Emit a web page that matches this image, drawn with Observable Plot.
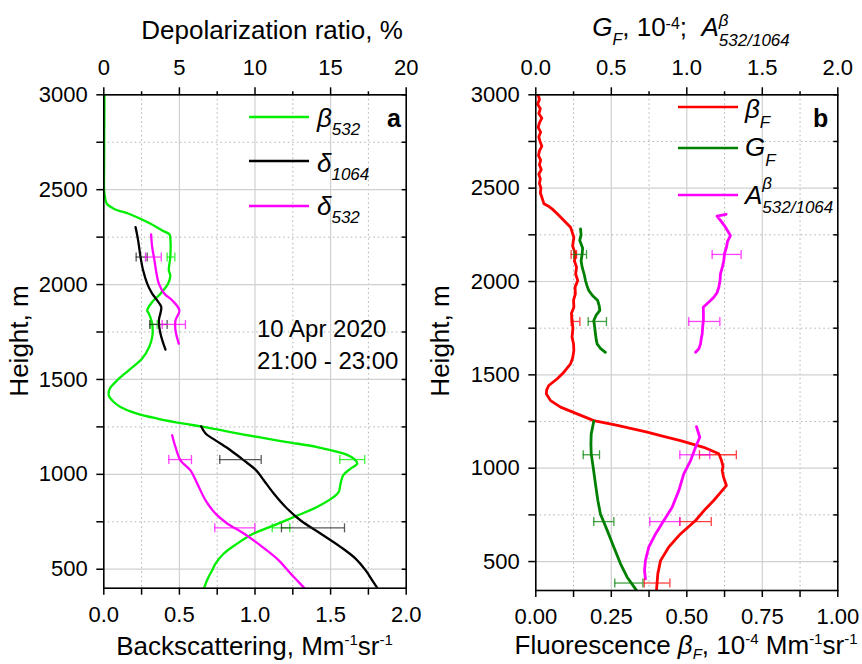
<!DOCTYPE html>
<html><head><meta charset="utf-8">
<script src="https://cdn.jsdelivr.net/npm/d3@7"></script>
<script src="https://cdn.jsdelivr.net/npm/@observablehq/plot@0.6"></script>
<style>
body{margin:0;background:#fff;}
#wrap{position:relative;width:862px;height:664px;background:#fff;}
#wrap svg{position:absolute;top:0;}
text,tspan{white-space:pre;}
</style></head><body><div id="wrap"></div>
<script>
// ---------- DATA ----------
// Panel a: [height m, backscattering Mm-1 sr-1]
const beta532 = [[3000,0.004],[2900,0.004],[2800,0.003],[2700,0.003],[2600,0.002],[2500,0.002],[2460,0.008],[2426,0.02],[2400,0.066],[2373,0.165],[2355,0.22],[2320,0.31],[2285,0.386],[2264,0.435],[2242,0.44],[2145,0.44],[2075,0.43],[2048,0.44],[2004,0.425],[1952,0.375],[1908,0.32],[1864,0.287],[1847,0.298],[1794,0.32],[1724,0.32],[1671,0.30],[1610,0.254],[1548,0.165],[1495,0.088],[1452,0.04],[1416,0.033],[1381,0.066],[1355,0.11],[1320,0.22],[1294,0.353],[1267,0.53],[1253,0.64],[1223,0.838],[1197,1.015],[1170,1.213],[1144,1.41],[1109,1.587],[1083,1.653],[1057,1.676],[1030,1.632],[995,1.583],[951,1.566],[907,1.554],[881,1.521],[828,1.41],[775,1.257],[723,1.10],[688,0.99],[635,0.882],[583,0.794],[530,0.739],[495,0.717],[451,0.688],[407,0.666],[400,0.663]];
// depolarization ratio, % : [height, value]
const delta1064Upper = [[2303,2.1],[2233,2.27],[2145,2.43],[2075,2.6],[2005,2.87],[1952,3.2],[1917,3.53],[1882,3.8],[1850,3.75],[1811,3.64],[1741,3.75],[1657,4.08]];
const delta1064Lower = [[1253,6.44],[1215,6.73],[1179,7.39],[1127,8.38],[1074,9.26],[1021,10.08],[969,10.58],[899,11.24],[828,12.02],[758,13.0],[688,14.33],[618,15.65],[556,16.65],[495,17.31],[433,17.82],[407,18.04],[400,18.1]];
const delta532Upper = [[2264,3.13],[2198,3.2],[2127,3.35],[2057,3.49],[2005,3.64],[1952,4.01],[1917,4.52],[1864,5.0],[1811,4.74],[1759,4.74],[1689,4.96]];
const delta532Lower = [[1206,4.52],[1144,4.74],[1074,5.07],[1021,5.73],[951,6.18],[863,6.73],[793,7.39],[741,8.16],[688,9.26],[618,10.48],[547,11.57],[477,12.35],[407,13.19],[400,13.27]];
// error bars: [height, low, high]
const beta532Err = [[2145,0.419,0.47],[1790,0.309,0.353],[1078,1.561,1.726],[718,1.114,1.23]];
const delta1064Err = [[2145,2.14,2.87],[1790,3.04,4.19],[1078,7.67,10.41],[718,11.75,15.92]];
const delta532Err = [[2145,2.76,3.8],[1790,3.86,5.4],[1078,4.3,5.8],[718,7.34,9.99]];

// Panel b: fluorescence beta_F, 1e-4 Mm-1 sr-1
const betaF = [[3000,0.008],[2975,0.012],[2950,0.006],[2925,0.015],[2900,0.01],[2875,0.02],[2850,0.012],[2825,0.008],[2800,0.016],[2775,0.01],[2750,0.014],[2725,0.02],[2700,0.012],[2675,0.009],[2650,0.016],[2625,0.012],[2600,0.018],[2575,0.01],[2550,0.015],[2525,0.012],[2500,0.017],[2475,0.015],[2451,0.02],[2416,0.027],[2400,0.045],[2389,0.054],[2363,0.071],[2327,0.093],[2291,0.115],[2237,0.126],[2190,0.122],[2148,0.131],[2110,0.128],[2077,0.135],[2040,0.132],[2005,0.139],[1970,0.13],[1934,0.131],[1900,0.125],[1862,0.126],[1830,0.118],[1791,0.12],[1750,0.123],[1702,0.12],[1665,0.125],[1630,0.126],[1590,0.122],[1559,0.115],[1514,0.093],[1479,0.071],[1443,0.043],[1420,0.036],[1398,0.035],[1362,0.049],[1327,0.082],[1291,0.137],[1255,0.192],[1229,0.27],[1193,0.369],[1175,0.413],[1148,0.479],[1112,0.556],[1077,0.606],[1041,0.615],[1010,0.62],[988,0.617],[950,0.622],[907,0.631],[871,0.612],[827,0.589],[782,0.562],[720,0.529],[648,0.479],[577,0.44],[505,0.413],[434,0.404],[354,0.40],[345,0.40]];
// G_F (1e-4) and A^beta 532/1064 on the top axis
const gFUpper = [[2282,0.296],[2250,0.30],[2220,0.291],[2180,0.31],[2148,0.307],[2110,0.30],[2077,0.307],[2040,0.32],[2005,0.329],[1975,0.34],[1952,0.351],[1925,0.375],[1898,0.41],[1870,0.42],[1845,0.424],[1820,0.40],[1791,0.384],[1755,0.39],[1720,0.395],[1690,0.40],[1666,0.406],[1640,0.43],[1621,0.461]];
const gFLower = [[1252,0.384],[1184,0.367],[1130,0.365],[1077,0.367],[1005,0.38],[916,0.395],[827,0.411],[755,0.428],[667,0.473],[577,0.517],[488,0.561],[416,0.605],[354,0.66],[345,0.668]];
const angUpper = [[2360,1.26],[2350,1.2],[2327,1.223],[2291,1.256],[2246,1.289],[2215,1.27],[2184,1.263],[2150,1.25],[2112,1.245],[2075,1.235],[2041,1.223],[2005,1.22],[1969,1.212],[1940,1.2],[1916,1.179],[1898,1.157],[1862,1.109],[1830,1.11],[1791,1.11],[1755,1.105],[1720,1.102],[1690,1.095],[1666,1.091],[1640,1.08],[1621,1.058]];
const angLower = [[1223,1.064],[1166,1.086],[1112,1.058],[1041,1.025],[970,0.98],[880,0.947],[791,0.903],[720,0.848],[648,0.793],[577,0.748],[505,0.726],[452,0.72],[407,0.726]];
const betaFErr = [[2145,0.117,0.135],[1786,0.117,0.146],[1072,0.542,0.664],[714,0.477,0.581],[385,0.359,0.444]];
const gFErr = [[2145,0.252,0.336],[1786,0.347,0.468],[1072,0.314,0.422],[714,0.384,0.517],[385,0.523,0.709]];
const angErr = [[2145,1.168,1.36],[1786,1.013,1.219],[1072,0.954,1.152],[714,0.755,0.954]];

// ticks
const aXMajor = [0,0.5,1,1.5,2];
const aXMinor = [0.25,0.75,1.25,1.75];
const bXMajor = [0,0.25,0.5,0.75,1];
const bXMinor = [0.125,0.375,0.625,0.875];
const yMajor = [500,1000,1500,2000,2500,3000];
const yMinor = [750,1250,1750,2250,2750];

// ---------- DRAW ----------
const FONT = "'Liberation Sans', Arial, Helvetica, sans-serif";
const capSymbol = {draw(ctx, size){ const h = Math.sqrt(size/Math.PI); ctx.moveTo(0,-h); ctx.lineTo(0,h); }};

function errMarks(data, conv, color) {
  return [
    Plot.ruleY(data, {y: d => d[0], x1: d => conv(d[1]), x2: d => conv(d[2]), stroke: color, strokeWidth: 1.3, strokeOpacity: 0.75}),
    Plot.dot(data, {y: d => d[0], x: d => conv(d[1]), symbol: capSymbol, r: 4.5, stroke: color, strokeWidth: 1.3, strokeOpacity: 0.75, fill: "none"}),
    Plot.dot(data, {y: d => d[0], x: d => conv(d[2]), symbol: capSymbol, r: 4.5, stroke: color, strokeWidth: 1.3, strokeOpacity: 0.75, fill: "none"})
  ];
}
function seriesLine(data, conv, color, w, curve) {
  return Plot.line(data, {x: d => conv(d[1]), y: d => d[0], stroke: color, strokeWidth: w, curve: curve || "linear", clip: true});
}

function panel({xDomain, yDomain, mL, mR, mB, xMajor, xMinor, bottomFmt, topFmt, marks}) {
  const inner = xMajor.slice(1, -1);
  return Plot.plot({
    width: 431, height: 664, marginTop: 94.3, marginBottom: mB, marginLeft: mL, marginRight: mR,
    style: {fontFamily: FONT, fontSize: "22px", color: "black", background: "white", overflow: "visible"},
    x: {domain: xDomain},
    y: {domain: yDomain},
    marks: [
      Plot.ruleX(xMinor, {x: d => d, stroke: "#b0b0b0", strokeDasharray: "1.5,3"}),
      Plot.ruleX(inner, {x: d => d, stroke: "#d0d0d0", strokeWidth: 1.2}),
      Plot.ruleY(yMinor, {y: d => d, stroke: "#b0b0b0", strokeDasharray: "1.5,3"}),
      Plot.ruleY(yMajor, {y: d => d, stroke: "#d0d0d0", strokeWidth: 1.2}),
      ...marks,
      Plot.frame({stroke: "black", strokeWidth: 1.6}),
      Plot.axisX(xMajor, {anchor: "bottom", tickSize: 7, tickPadding: 11, strokeWidth: 1.5, tickFormat: bottomFmt, label: null}),
      Plot.axisX(xMinor, {anchor: "bottom", tickSize: 7, strokeWidth: 1.5, tickFormat: () => "", label: null}),
      Plot.axisX(xMajor, {anchor: "top", tickSize: 8, tickPadding: 12, strokeWidth: 1.5, tickFormat: topFmt, label: null}),
      Plot.axisX(xMinor, {anchor: "top", tickSize: 4, strokeWidth: 1.5, tickFormat: () => "", label: null}),
      Plot.axisY(yMajor, {anchor: "left", tickSize: 7, tickPadding: 9, strokeWidth: 1.5, tickFormat: d => String(d), label: null}),
      Plot.axisY(yMinor, {anchor: "left", tickSize: 7, strokeWidth: 1.5, tickFormat: () => "", label: null}),
      Plot.axisY(yMajor.concat(yMinor), {anchor: "right", tickSize: -5, strokeWidth: 1.5, tickFormat: () => "", label: null})
    ]
  });
}

const id = v => v;
const pct = v => v / 10;   // depolarization % -> bottom units
const half = v => v / 2;   // top axis of panel b -> bottom units

const GREEN = "#00ee00", MAG = "#ff00ff";
const left = panel({
  xDomain: [0, 2], yDomain: [400, 3000], mL: 103.3, mR: 25.3, mB: 76.3,
  xMajor: aXMajor, xMinor: aXMinor,
  bottomFmt: d => d.toFixed(1), topFmt: d => String(Math.round(d * 10)),
  marks: [
    seriesLine(beta532, id, GREEN, 2.3, "catmull-rom"),
    seriesLine(delta1064Upper, pct, "black", 2.3, "catmull-rom"),
    seriesLine(delta1064Lower, pct, "black", 2.3, "catmull-rom"),
    seriesLine(delta532Upper, pct, MAG, 2.3, "catmull-rom"),
    seriesLine(delta532Lower, pct, MAG, 2.3, "catmull-rom"),
    ...errMarks(beta532Err, id, GREEN),
    ...errMarks(delta1064Err, pct, "#222"),
    ...errMarks(delta532Err, pct, MAG)
  ]
});
const right = panel({
  xDomain: [0, 1], yDomain: [345, 3000], mL: 104.3, mR: 24.7, mB: 74,
  xMajor: bXMajor, xMinor: bXMinor,
  bottomFmt: d => d.toFixed(2), topFmt: d => (d * 2).toFixed(1),
  marks: [
    seriesLine(betaF, id, "#ff0000", 2.8),
    seriesLine(gFUpper, half, "#008000", 2.8),
    seriesLine(gFLower, half, "#008000", 2.8),
    seriesLine(angUpper, half, MAG, 2.8),
    seriesLine(angLower, half, MAG, 2.8),
    ...errMarks(betaFErr, id, "#ff0000"),
    ...errMarks(gFErr, half, "#008000"),
    ...errMarks(angErr, half, MAG)
  ]
});
const wrap = document.getElementById("wrap");
left.style.left = "0px"; right.style.left = "431px";
wrap.appendChild(left); wrap.appendChild(right);

function addText(svg, {x, y, anchor = "start", size = 26, rotate = 0, weight, parts}) {
  const t = d3.select(svg).append("text")
    .attr("transform", `translate(${x},${y})` + (rotate ? ` rotate(${rotate})` : ""))
    .attr("text-anchor", anchor).attr("font-family", FONT).attr("font-size", size)
    .attr("fill", "black").style("white-space", "pre");
  if (weight) t.attr("font-weight", weight);
  let prev = 0;
  for (const p of parts) {
    const s = p.shift || 0;
    const ts = t.append("tspan").text(p.t).attr("dy", s - prev);
    prev = s;
    if (p.size) ts.attr("font-size", p.size);
    if (p.italic) ts.attr("font-style", "italic");
  }
  return t.node();
}
function legendLine(svg, x1, x2, y, color) {
  d3.select(svg).append("line").attr("x1", x1).attr("x2", x2).attr("y1", y).attr("y2", y)
    .attr("stroke", color).attr("stroke-width", 2.6);
}

// ----- panel a texts -----
addText(left, {x: 272, y: 39, anchor: "middle", parts: [{t: "Depolarization ratio, %"}]});
addText(left, {x: 254.5, y: 655, anchor: "middle", parts: [
  {t: "Backscattering, Mm"}, {t: "-1", size: 15, shift: -10}, {t: "sr"}, {t: "-1", size: 15, shift: -10}]});
addText(left, {x: 28, y: 341, anchor: "middle", rotate: -90, parts: [{t: "Height, m"}]});
addText(left, {x: 257, y: 337, size: 24, parts: [{t: "10 Apr 2020"}]});
addText(left, {x: 257, y: 369, size: 24, parts: [{t: "21:00 - 23:00"}]});
addText(left, {x: 387, y: 127, size: 25, weight: "bold", parts: [{t: "a"}]});
legendLine(left, 249, 309, 117, GREEN);
legendLine(left, 249, 309, 161, "black");
legendLine(left, 249, 309, 206, MAG);
addText(left, {x: 317, y: 127, parts: [{t: "β", italic: true}, {t: "532", italic: true, size: 17, shift: 8}]});
addText(left, {x: 317, y: 172, parts: [{t: "δ", italic: true}, {t: "1064", italic: true, size: 17, shift: 8}]});
addText(left, {x: 317, y: 215, parts: [{t: "δ", italic: true}, {t: "532", italic: true, size: 17, shift: 8}]});

// ----- panel b texts -----
addText(right, {x: 255, y: 654, anchor: "middle", parts: [
  {t: "Fluorescence "}, {t: "β", italic: true}, {t: "F", italic: true, size: 15, shift: 5}, {t: ", 10"},
  {t: "-4", size: 15, shift: -10}, {t: " Mm"}, {t: "-1", size: 15, shift: -10}, {t: "sr"}, {t: "-1", size: 15, shift: -10}]});
addText(right, {x: 18, y: 341, anchor: "middle", rotate: -90, parts: [{t: "Height, m"}]});
addText(right, {x: 382, y: 127, size: 25, weight: "bold", parts: [{t: "b"}]});
legendLine(right, 247, 307, 107, "#ff0000");
legendLine(right, 247, 307, 148, "#008000");
legendLine(right, 247, 307, 195, MAG);
addText(right, {x: 314, y: 118, parts: [{t: "β", italic: true}, {t: "F", italic: true, size: 17, shift: 10}]});
addText(right, {x: 314, y: 156, parts: [{t: "G", italic: true}, {t: "F", italic: true, size: 17, shift: 10}]});
// A with stacked super/sub
function stacked(svg, x, y, sup, sub, supShift, subShift) {
  const a = addText(svg, {x, y, parts: [{t: "A", italic: true}]});
  const ax = x + a.getComputedTextLength();
  const s1 = addText(svg, {x: ax, y: y + supShift, size: 17, parts: [{t: sup, italic: true}]});
  const s2 = addText(svg, {x: ax, y: y + subShift, size: 17, parts: [{t: sub, italic: true}]});
  return [a, s1, s2];
}
stacked(right, 314, 204, "β", "532/1064", -15, 9);

// top title of panel b, centered
{
  const g = addText(right, {x: 0, y: 36, parts: [
    {t: "G", italic: true}, {t: "F", italic: true, size: 16, shift: 9}, {t: ", 10"}, {t: "-4", size: 16, shift: -7}, {t: ";  "}, {t: "A", italic: true}]});
  const w0 = g.getComputedTextLength();
  const s1 = addText(right, {x: 0, y: 26, size: 17, parts: [{t: "β", italic: true}]});
  const s2 = addText(right, {x: 0, y: 46, size: 17, parts: [{t: "532/1064", italic: true}]});
  const w = w0 + Math.max(s1.getComputedTextLength(), s2.getComputedTextLength());
  const x0 = 260 - w / 2;
  g.setAttribute("transform", `translate(${x0},36)`);
  s1.setAttribute("transform", `translate(${x0 + w0},26)`);
  s2.setAttribute("transform", `translate(${x0 + w0},46)`);
}
</script></body></html>
